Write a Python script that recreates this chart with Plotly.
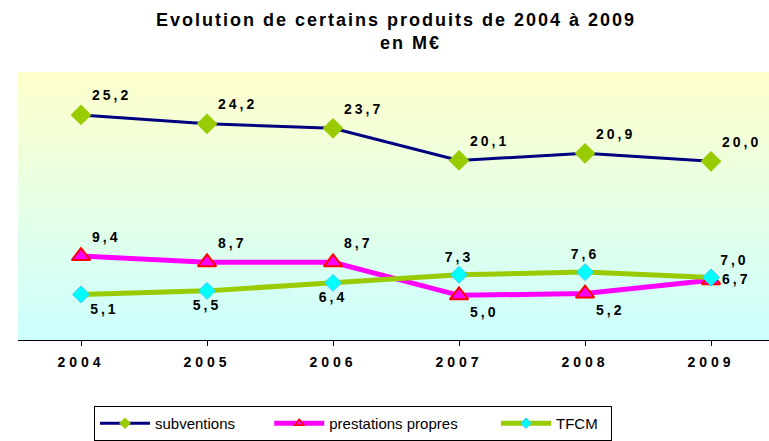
import base64
import plotly.graph_objects as go

years = ["2004", "2005", "2006", "2007", "2008", "2009"]
subventions = [25.2, 24.2, 23.7, 20.1, 20.9, 20.0]
prestations = [9.4, 8.7, 8.7, 5.0, 5.2, 6.7]
tfcm = [5.1, 5.5, 6.4, 7.3, 7.6, 7.0]

pos_sub = ["top right"] * 6
pos_pre = ["top right", "top right", "top right", "bottom right", "bottom right", "middle right"]
pos_tf = ["bottom right", "bottom center", "bottom center", "top center", "top center", "top right"]

FONT = "Liberation Sans, Arial, sans-serif"
NB = "\u00a0"


def fmt(v):
    return f"{v:.1f}".replace(".", ",")


xs = list(range(len(years)))
label_font = dict(family=FONT, size=14, color="black", weight="bold")

series = [
    dict(name="subventions", pad=7, y=subventions, pos=pos_sub,
         line=dict(color="#000080", width=3),
         marker=dict(symbol="diamond", size=16, color="#99CC00", line=dict(width=0)),
         lmarker=dict(symbol="diamond", size=9, color="#99CC00", line=dict(width=0))),
    dict(name="prestations propres", pad=8, y=prestations, pos=pos_pre,
         line=dict(color="#FF00FF", width=5),
         marker=dict(symbol="triangle-up", size=16, color="#FF00FF", line=dict(width=2, color="#FF0000")),
         lmarker=dict(symbol="triangle-up", size=8, color="#FF00FF", line=dict(width=1.5, color="#FF0000"))),
    dict(name="TFCM", pad=2, y=tfcm, pos=pos_tf,
         line=dict(color="#99CC00", width=5),
         marker=dict(symbol="diamond", size=13, color="#00FFFF", line=dict(width=1, color="#33CCFF")),
         lmarker=dict(symbol="diamond", size=8, color="#00FFFF", line=dict(width=1, color="#33CCFF"))),
]

fig = go.Figure()
for s in series:
    fig.add_trace(go.Scatter(
        x=xs, y=s["y"], name=s["name"], mode="lines+markers+text",
        line=s["line"], marker=s["marker"],
        text=[fmt(v) for v in s["y"]], textposition=s["pos"], textfont=label_font,
        cliponaxis=False, showlegend=False,
    ))
for s in series:
    fig.add_trace(go.Scatter(
        x=[None], y=[None], name=s["name"] + NB * s["pad"], mode="lines+markers",
        line=s["line"], marker=s["lmarker"], showlegend=True,
    ))

svg = ('<svg xmlns="http://www.w3.org/2000/svg" width="100" height="100" preserveAspectRatio="none">'
       '<defs><linearGradient id="g" x1="0" y1="0" x2="0" y2="1">'
       '<stop offset="0" stop-color="#FFFFCC"/><stop offset="1" stop-color="#CCFFFF"/>'
       '</linearGradient></defs><rect width="100" height="100" fill="url(#g)"/></svg>')
uri = "data:image/svg+xml;base64," + base64.b64encode(svg.encode()).decode()

fig.update_layout(
    width=769, height=441,
    margin=dict(l=18, r=0, t=72, b=100),
    paper_bgcolor="white", plot_bgcolor="rgba(0,0,0,0)",
    images=[dict(source=uri, xref="paper", yref="paper", x=0, y=1, sizex=1, sizey=1,
                 xanchor="left", yanchor="top", sizing="stretch", layer="below")],
    title=dict(text="Evolution de certains produits de 2004 à 2009",
               x=396 / 769, xref="container", xanchor="center", y=1 - 20 / 441, yanchor="middle",
               font=dict(family=FONT, size=18, color="black", weight="bold")),
    annotations=[dict(text="en M€", xref="paper", yref="paper", x=(410 - 18) / 751,
                      y=1 + (72 - 43) / 269, xanchor="center", yanchor="middle", showarrow=False,
                      font=dict(family=FONT, size=18, color="black", weight="bold"))],
    showlegend=True,
    legend=dict(orientation="h", x=(353 - 18) / 751, xanchor="center", y=-(407 - 341) / 269, yanchor="top",
                bordercolor="black", borderwidth=1, bgcolor="white", itemwidth=50,
                font=dict(family=FONT, size=15, color="black")),
    xaxis=dict(tickmode="array", tickvals=xs, ticktext=years, range=[-0.5, 5.46],
               showline=True, linecolor="black", linewidth=1, ticks="outside", tickson="boundaries",
               ticklen=5, tickcolor="black", showgrid=False, zeroline=False, fixedrange=True,
               ticklabelstandoff=4,
               tickfont=dict(family=FONT, size=14, color="black", weight="bold")),
    yaxis=dict(range=[0, 30], visible=False, showgrid=False, zeroline=False, fixedrange=True),
)

css = ("body{margin:0}"
       ".gtitle,.annotation-text{letter-spacing:2px}"
       ".xtick text{letter-spacing:4px}"
       ".textpoint text{letter-spacing:3px}")
post = ("document.body.style.margin='0px';"
        "var st=document.createElement('style');st.textContent=" + repr(css) + ";"
        "document.head.appendChild(st);")

fig.write_html("out.html", post_script=post, config={"displayModeBar": False})
